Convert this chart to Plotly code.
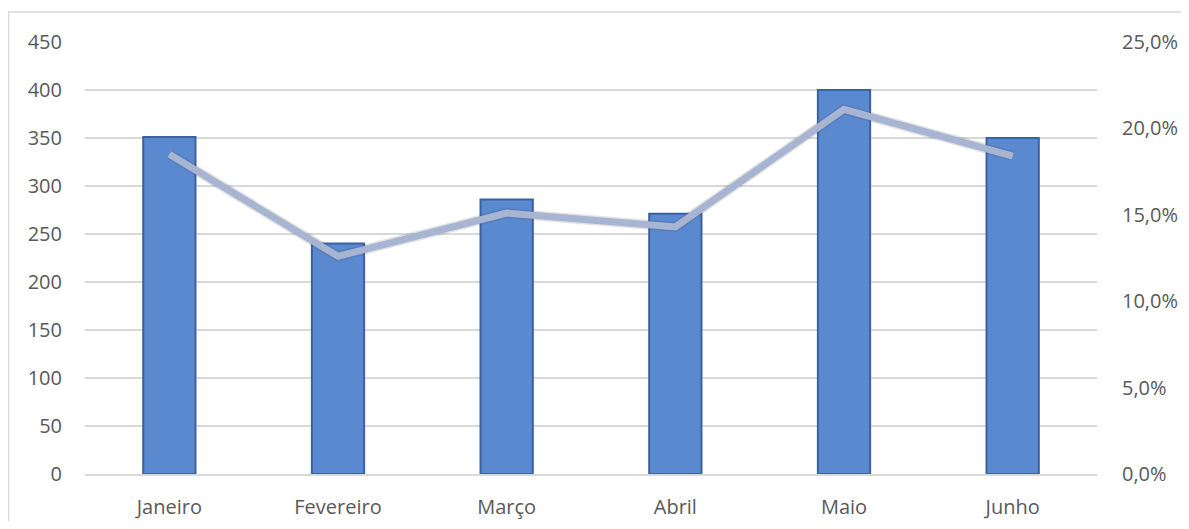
import plotly.graph_objects as go

months = ["Janeiro", "Fevereiro", "Março", "Abril", "Maio", "Junho"]
quantidade = [351, 240, 286, 271, 400, 350]
percentual = [0.185, 0.126, 0.151, 0.143, 0.211, 0.184]

left_ticks = [0, 50, 100, 150, 200, 250, 300, 350, 400, 450]
right_ticks = [0, 0.05, 0.10, 0.15, 0.20, 0.25]
right_labels = ["0,0%", "5,0%", "10,0%", "15,0%", "20,0%", "25,0%"]

# page has an 8px body margin, so the figure is drawn 8px in from the corner
W, H = 1173, 513
ml, mr, mt, mb = 77, 84, 34, 47
font = "Open Sans, Noto Sans, sans-serif"

fig = go.Figure()
fig.add_trace(go.Bar(
    x=months, y=quantidade, width=0.31,
    marker=dict(color="#5A89CF", line=dict(color="#3B62A0", width=2)),
    yaxis="y", showlegend=False,
))
# line shadow
fig.add_trace(go.Scatter(
    x=months, y=percentual, yaxis="y2", mode="lines",
    line=dict(color="rgba(60,60,60,0.15)", width=10),
    hoverinfo="skip", showlegend=False,
))
fig.add_trace(go.Scatter(
    x=months, y=percentual, yaxis="y2", mode="lines",
    line=dict(color="#A7B5D3", width=7),
    showlegend=False,
))

fig.update_layout(
    width=W, height=H,
    margin=dict(l=ml, r=mr, t=mt, b=mb, autoexpand=False),
    paper_bgcolor="white", plot_bgcolor="white",
    font=dict(family=font, size=20, color="#595959"),
    xaxis=dict(showgrid=False, showline=True, linecolor="#D9D9D9", linewidth=1.5,
               ticks="", tickfont=dict(size=20, color="#595959"), ticklabelstandoff=14,
               automargin=False),
    yaxis=dict(range=[0, 450], tickvals=left_ticks, showgrid=True, gridcolor="#D9D9D9",
               gridwidth=1.5, zeroline=False, showline=False, ticks="",
               ticklabelstandoff=22, automargin=False),
    yaxis2=dict(range=[0, 0.25], tickvals=right_ticks, ticktext=right_labels,
                overlaying="y", side="right", showgrid=False, zeroline=False,
                showline=False, ticks="", ticklabelstandoff=24, automargin=False),
    bargap=0.69,
    shapes=[
        dict(type="rect", xref="paper", yref="paper",
             x0=(0.5 - ml) / (W - ml - mr), x1=1.2,
             y0=-0.2, y1=(H - mb - 4) / (H - mt - mb),
             line=dict(color="#D9D9D9", width=1.5), fillcolor="rgba(0,0,0,0)", layer="below"),
    ],
)

fig.write_html("out.html")
